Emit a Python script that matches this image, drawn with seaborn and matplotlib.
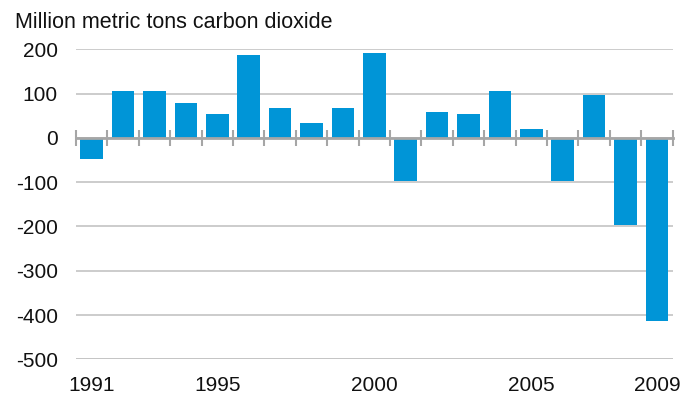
import matplotlib
matplotlib.use("Agg")
import matplotlib.pyplot as plt
import matplotlib.transforms as mtransforms
import numpy as np
import pandas as pd
import seaborn as sns

# Annual change in energy-related carbon dioxide emissions
years = [1991, 1992, 1993, 1994, 1995, 1996, 1997, 1998, 1999, 2000,
         2001, 2002, 2003, 2004, 2005, 2006, 2007, 2008, 2009]
change = [-47, 107, 107, 78, 53, 187, 67, 33, 67, 192,
          -97, 58, 53, 107, 21, -97, 96, -197, -413]
labeled_years = [1991, 1995, 2000, 2005, 2009]
y_ticks = [200, 100, 0, -100, -200, -300, -400, -500]
title = "Million metric tons carbon dioxide"

bar_color = "#0095d7"
grid_color = "#c4c4c4"
axis_color = "#a6a6a6"
text_color = "#111111"

sns.set_theme(style="white")
plt.rcParams["font.family"] = ["Liberation Sans", "DejaVu Sans"]

df = pd.DataFrame({"year": [str(y) for y in years], "change": change})

fig = plt.figure(figsize=(6.94, 3.98), dpi=100)
ax = fig.add_axes([0.1095, 0.0972, 0.8598, 0.7788])

sns.barplot(data=df, x="year", y="change", color=bar_color, saturation=1,
            width=0.72, linewidth=0, ax=ax, zorder=3)

n = len(years)
ax.set_xlim(-0.5, n - 0.5)
ax.set_ylim(min(y_ticks), max(y_ticks))
ax.set_xlabel("")
ax.set_ylabel("")

# horizontal gridlines
ax.set_yticks(y_ticks)
ax.set_yticklabels([str(v) for v in y_ticks], fontsize=15, color=text_color)
ax.tick_params(axis="y", length=0, pad=13)
ax.yaxis.grid(True, color=grid_color, linewidth=1.2)
ax.set_axisbelow(True)
for s in ["top", "right", "left", "bottom"]:
    ax.spines[s].set_visible(False)
# lowest grid line drawn explicitly so it is not clipped
ax.axhline(min(y_ticks), color=grid_color, linewidth=1.2, zorder=1)

# zero axis with category separators
ax.spines["bottom"].set_visible(True)
ax.spines["bottom"].set_position(("data", 0))
ax.spines["bottom"].set_color(axis_color)
ax.spines["bottom"].set_linewidth(2)
ax.spines["bottom"].set_zorder(4)
ax.set_xticks(np.arange(n))
ax.set_xticklabels([])
ax.set_xticks(np.arange(n + 1) - 0.5, minor=True)
ax.tick_params(axis="x", which="major", length=0)
ax.tick_params(axis="x", which="minor", length=11, width=1.5,
               direction="inout", color=axis_color, bottom=True)

# year labels along the bottom
trans = mtransforms.blended_transform_factory(ax.transData, ax.transAxes)
for y in labeled_years:
    ax.text(years.index(y), -0.083, str(y), transform=trans,
            ha="center", va="center", fontsize=15, color=text_color)

fig.text(15 / 694, 1 - 22 / 398, title, ha="left", va="center",
         fontsize=15.5, color=text_color)

fig.savefig("out.png", dpi=100)
